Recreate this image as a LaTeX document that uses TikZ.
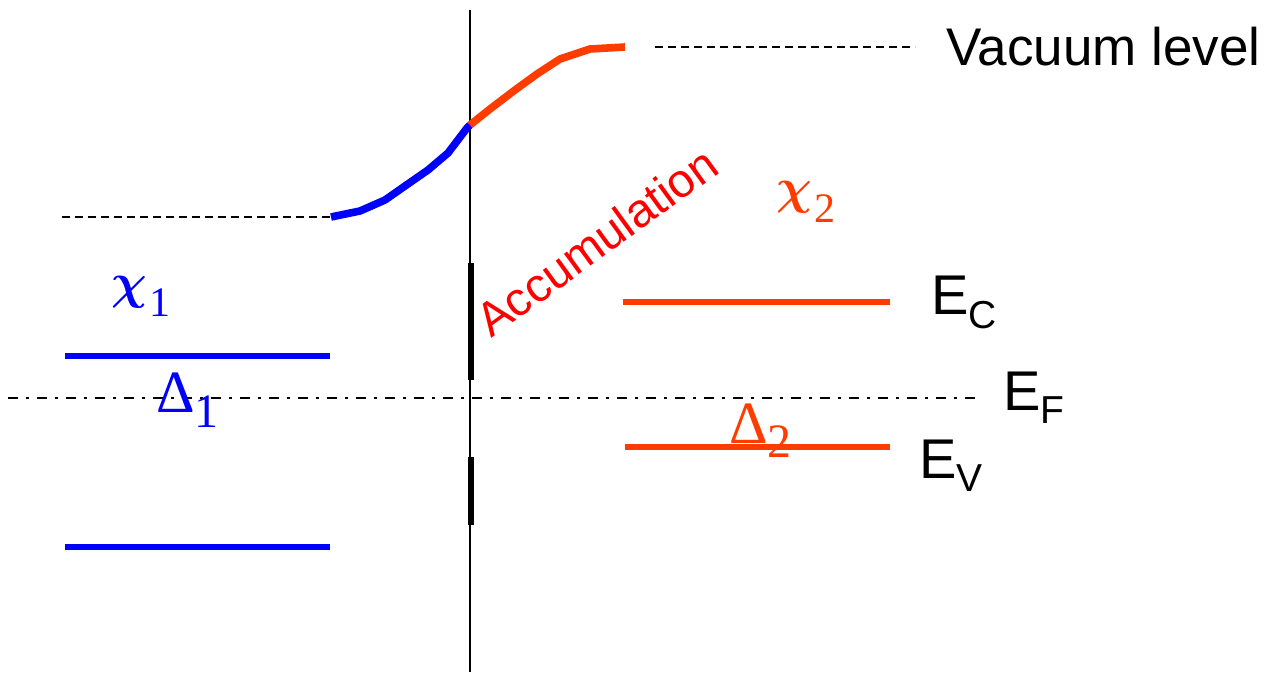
\documentclass[tikz,border=0pt]{standalone}
\usepackage{bm}
\usepackage{fontspec}
\setmainfont{Liberation Sans}
\newfontfamily\greekfont{Liberation Serif}
\usetikzlibrary{positioning}
\definecolor{sideOne}{RGB}{0,0,255}
\definecolor{sideTwo}{RGB}{255,60,0}
\definecolor{accRed}{RGB}{255,0,0}
\colorlet{ink}{black}
\tikzset{
  interface/.style={draw=ink, line width=1pt},
  charge/.style={draw=ink, line width=2.6pt},
  level/.style={line width=3pt},
  bandbend/.style={line width=3.8pt, line join=round},
  vacdash/.style={draw=ink, line width=0.8pt, dash pattern=on 4pt off 2.5pt},
  fermi/.style={draw=ink, line width=0.8pt, dash pattern=on 5pt off 4pt on 1.5pt off 4pt},
  elabel/.style={inner sep=0pt, font=\fontsize{28}{28}\selectfont},
  greek label/.style={inner sep=0pt, font=\greekfont\fontsize{30}{30}\selectfont},
  chi label/.style={inner sep=0pt, font=\fontsize{30}{30}\selectfont}
}
\newcommand{\Lvl}[2]{E\raisebox{-6.5pt}{\fontsize{19.5}{19.5}\selectfont #2}}
\newcommand{\GrSub}[2]{#1\raisebox{-7pt}{\fontsize{24}{24}\selectfont #2}}
\newcommand{\ChiSub}[2]{$\bm{\chi}$\kern1pt\raisebox{-#2}{\greekfont\fontsize{21}{21}\selectfont #1}}

\begin{document}
\begin{tikzpicture}[x=0.5pt,y=-0.5pt]
  \useasboundingbox (0,0) rectangle (1268,678);

  % interface and interface charge
  \coordinate (iftop) at (470,10);
  \coordinate (ifbot) at (470,672);
  \draw[interface] (iftop) -- (ifbot);
  \coordinate (qa) at (471,263);
  \coordinate (qb) at (471,380);
  \coordinate (qc) at (471,457);
  \coordinate (qd) at (471,525);
  \draw[charge] (qa) -- (qb);
  \draw[charge] (qc) -- (qd);

  % vacuum level
  \coordinate (vacL) at (62,217);
  \coordinate (vacR) at (915,47);
  \draw[vacdash] (vacL) -- (331,217);
  \draw[vacdash] (655,47) -- (vacR);
  \draw[bandbend, sideOne] (331,217) -- (360,211) -- (385,200) -- (405,186) -- (428,170) -- (448,153) -- (467,128) -- (470,125);
  \draw[bandbend, sideTwo] (470,125) -- (490,109) -- (515,90) -- (537,74) -- (560,59) -- (590,49) -- (625,47);
  \node[anchor=west, inner sep=0pt, font=\fontsize{26.5}{26.5}\selectfont] (vaclabel) at (946,47) {Vacuum level};

  % Fermi level
  \coordinate (efL) at (8,398);
  \coordinate (efR) at (978,398);
  \draw[fermi] (efL) -- (efR);
  \node[elabel, anchor=base west] (ef) at (1003,410) {\Lvl{E}{F}};

  % side 1 bands
  \draw[level, sideOne] (65,356) -- (330,356);
  \draw[level, sideOne] (65,547) -- (330,547);
  \node[chi label, text=sideOne, anchor=base west] (chi1) at (111,299) {\ChiSub{1}{9pt}};
  \node[greek label, text=sideOne, anchor=base west] (del1) at (156,413) {\GrSub{Δ}{1}};

  % side 2 bands
  \draw[level, sideTwo] (623,302) -- (890,302);
  \draw[level, sideTwo] (625,447) -- (890,447);
  \node[chi label, text=sideTwo, anchor=base west] (chi2) at (776,204) {\ChiSub{2}{9.5pt}};
  \node[greek label, text=sideTwo, anchor=base west] (del2) at (729,443) {\GrSub{Δ}{2}};
  \node[elabel, anchor=base west] (ec) at (931,315) {\Lvl{E}{C}};
  \node[elabel, anchor=base west] (ev) at (919,478) {\Lvl{E}{V}};

  \node[anchor=base west, inner sep=0pt, rotate=36, text=accRed, font=\fontsize{23.7}{23.7}\selectfont] (acc) at (491,339) {Accumulation};
\end{tikzpicture}
\end{document}
